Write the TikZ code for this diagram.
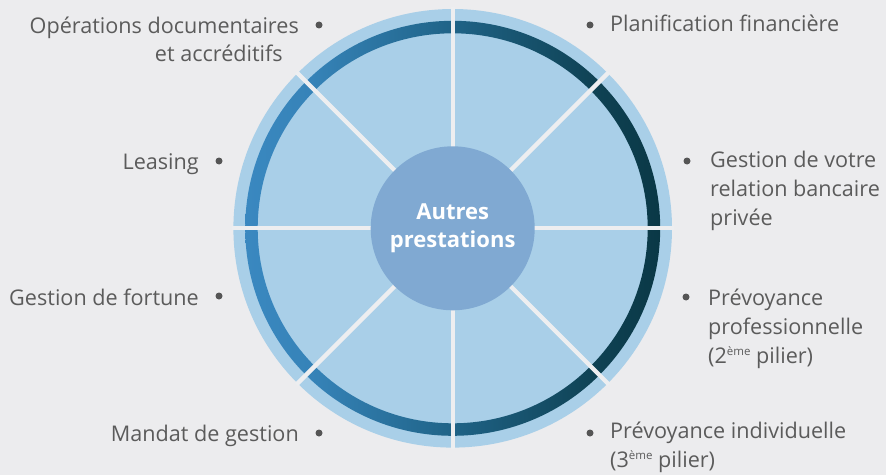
\documentclass[tikz,border=0pt]{standalone}
\usepackage{fontspec}
\setmainfont{Open Sans}
\definecolor{bg}{HTML}{ECECEE}
\definecolor{lightblue}{HTML}{A9CFE8}
\definecolor{hubblue}{HTML}{80A9D2}
\definecolor{gapcol}{HTML}{EDEEF0}
\definecolor{txt}{HTML}{5B5B5B}
\definecolor{bul}{HTML}{555555}
\definecolor{bandL}{HTML}{3A88C0}
\definecolor{bandLm}{HTML}{3683B8}
\definecolor{bandM}{HTML}{1F6387}
\definecolor{bandRm}{HTML}{0F4254}
\definecolor{bandR}{HTML}{0A3846}
\pgfdeclarehorizontalshading{bandshade}{100bp}{color(0bp)=(bandL); color(25bp)=(bandL); color(33bp)=(bandLm); color(50bp)=(bandM); color(67bp)=(bandRm); color(75bp)=(bandR); color(100bp)=(bandR)}
\newcommand{\supx}[1]{\raisebox{7.5pt}{\fontsize{11.5}{11.5}\selectfont #1}}
\begin{document}
\begin{tikzpicture}[x=1pt,y=1pt,
  lbl/.style={font=\fontsize{21.6}{29}\selectfont, text=txt, inner sep=0pt},
  bullet/.style={circle, fill=bul, inner sep=0pt, minimum size=7pt},
  divider/.style={draw=gapcol, line width=4.3pt}]
\fill[bg] (0,0) rectangle (886,475);
\useasboundingbox (0,0) rectangle (886,475);
\coordinate (C) at (452.7,246.7);
\fill[lightblue] (C) circle[radius=219.3];
\shade[shading=bandshade, even odd rule] (C) circle[radius=207.5] (C) circle[radius=195];
\foreach \a in {0,45,...,315} \draw[divider] (C) -- ++(\a:221);
\node[circle, fill=hubblue, minimum size=164pt, inner sep=0pt, font=\bfseries\fontsize{22}{28.5}\selectfont, text=white, align=center] (hub) at (C) {Autres\\prestations};
% left labels
\node[lbl, anchor=base east, align=right] (op) at (299,413) {Opérations documentaires\\et accréditifs\hspace*{16pt}};
\node[bullet] (bop) at (319,450) {};
\node[lbl, anchor=base east] (leas) at (199,306) {Leasing};
\node[bullet] (bleas) at (219,314) {};
\node[lbl, anchor=base east] (fort) at (199,170) {Gestion de fortune};
\node[bullet] (bfort) at (219,179) {};
\node[lbl, anchor=base east] (mand) at (299,34) {Mandat de gestion};
\node[bullet] (bmand) at (319,42) {};
% right labels
\node[lbl, anchor=base west] (plan) at (610,443) {Planification financière};
\node[bullet] (bplan) at (590,450) {};
\node[lbl, anchor=base west, align=left] (rel) at (710,250) {Gestion de votre\\relation bancaire\\privée};
\node[bullet] (brel) at (687,314) {};
\node[lbl, anchor=base west, align=left] (prof) at (708,112) {Prévoyance\\professionnelle\\(2\supx{ème} pilier)};
\node[bullet] (bprof) at (686,178) {};
\node[lbl, anchor=base west, align=left] (indiv) at (610,8) {Prévoyance individuelle\\(3\supx{ème} pilier)};
\node[bullet] (bindiv) at (590,42) {};
\end{tikzpicture}
\end{document}
